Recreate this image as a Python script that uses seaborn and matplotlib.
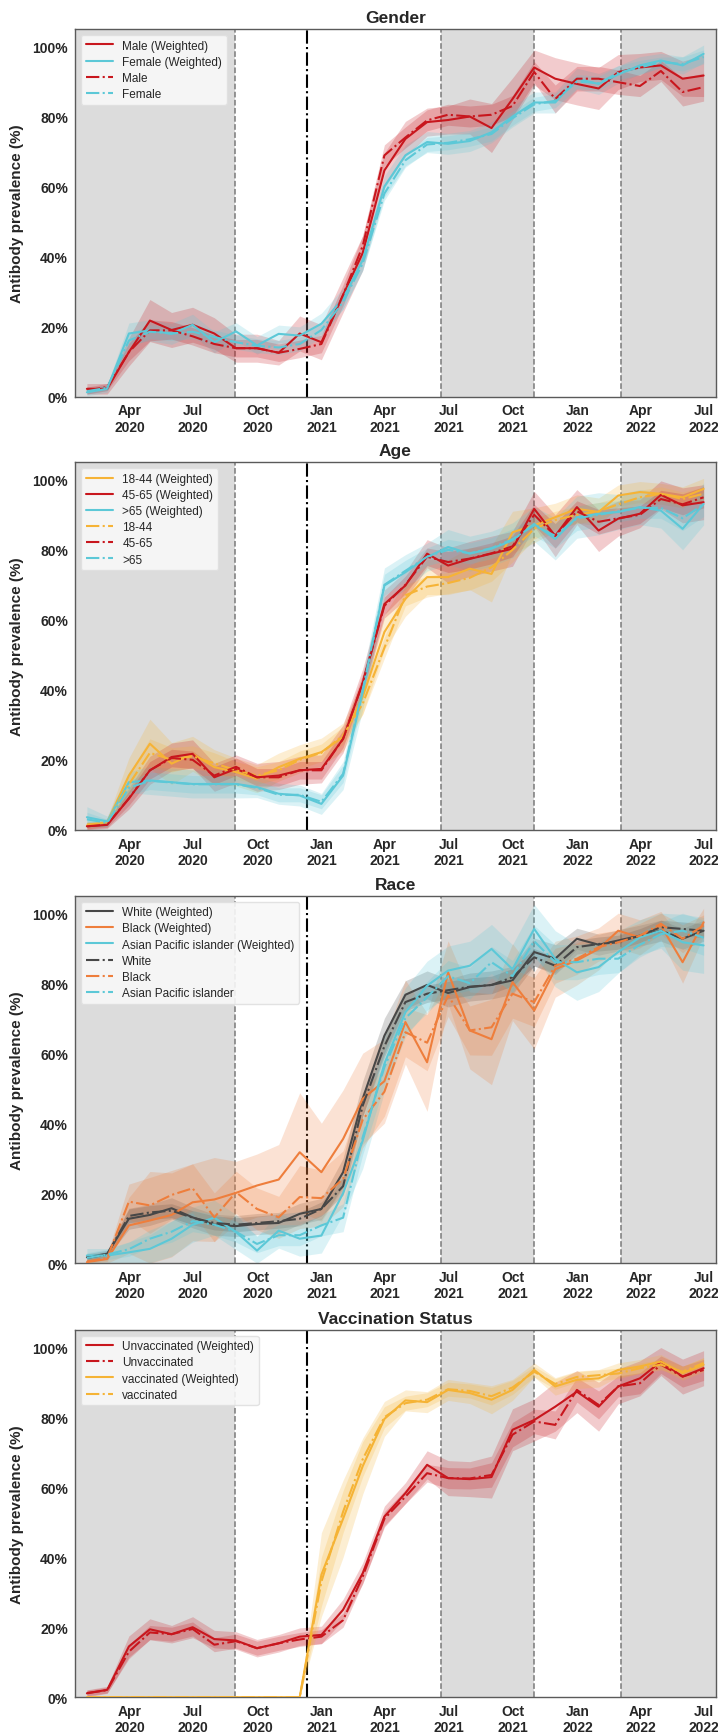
import numpy as np
import pandas as pd
import matplotlib
matplotlib.use("Agg")
import matplotlib.pyplot as plt
import matplotlib.dates as mdates
from matplotlib.ticker import FuncFormatter
import seaborn as sns

# ---------------- data (monthly, month-end, Jan 2020 - Jun 2022) ----------------
months = pd.date_range("2020-01-01", periods=30, freq="MS") + pd.offsets.MonthEnd(0)

# Gender
male_w = [2.2, 2.2, 12.7, 21.7, 19.0, 20.5, 18.0, 13.8, 13.8, 12.5, 18.0, 15.5, 29.0, 41.0, 64.6,
          73.6, 78.4, 79.0, 80.0, 76.7, 85.0, 94.0, 90.8, 89.3, 88.0, 92.7, 94.0, 94.6, 90.8, 91.7]
female_w = [1.2, 2.2, 18.0, 18.9, 17.9, 20.5, 15.5, 18.6, 14.6, 17.9, 17.4, 20.8, 28.0, 39.0, 60.0,
            68.9, 72.7, 72.2, 73.0, 75.5, 80.0, 84.0, 84.0, 90.8, 89.3, 92.0, 94.6, 96.0, 94.6, 97.9]
male_u = [1.7, 2.7, 12.7, 18.9, 18.9, 17.2, 15.0, 13.8, 13.8, 12.5, 13.6, 15.0, 29.0, 43.0, 68.9,
          74.0, 78.9, 80.5, 80.0, 80.5, 83.0, 92.7, 85.0, 90.8, 90.8, 89.8, 88.7, 93.0, 87.0, 88.4]
female_u = [1.5, 2.5, 16.0, 18.5, 18.0, 18.5, 17.0, 15.5, 14.5, 14.0, 15.0, 19.0, 27.0, 38.0, 58.0,
            67.5, 72.0, 72.5, 73.5, 75.0, 79.5, 83.5, 84.5, 90.0, 89.5, 92.5, 94.0, 95.5, 95.0, 97.0]
male_w_err = [1.5, 1.5, 4, 6, 5, 5, 4.5, 4, 4, 3.5, 5, 5, 5, 5, 5, 5, 4, 4, 5, 7, 6, 5, 6, 6, 6, 5, 4, 4, 5, 6]
female_w_err = [1, 1, 3, 3, 3, 3, 3, 2.5, 2.5, 2.5, 2.5, 3, 3, 3, 3, 3, 3, 3, 3, 3, 3, 3, 3, 3, 3, 2.5, 2.5, 2, 2.5, 2.5]
male_u_err = [1, 1, 2.5, 3, 2.5, 2.5, 2.5, 2.5, 2.5, 2.5, 2.5, 2.5, 3, 3, 3, 3, 3, 3, 3, 3, 3, 3, 4, 3.5, 3.5, 3.5, 3, 3, 4, 4]
female_u_err = [0.8, 0.8, 2, 2, 2, 2, 2, 2, 2, 2, 2, 2, 2, 2, 2, 2, 2, 2, 2, 2, 2, 2, 2, 2, 2, 2, 2, 1.5, 2, 2]

# Age
a1844_w = [1.2, 2.2, 15.5, 24.6, 18.9, 21.7, 17.9, 16.5, 14.6, 17.9, 20.3, 22.2, 26.5, 38.0, 56.5,
           66.0, 72.2, 72.2, 74.6, 73.1, 85.0, 87.0, 89.3, 91.7, 90.8, 95.5, 96.5, 96.0, 95.0, 97.4]
a4565_w = [1.0, 1.4, 8.9, 17.0, 20.8, 21.7, 15.0, 17.4, 15.0, 15.5, 17.0, 17.4, 26.0, 42.0, 64.5,
           69.8, 78.9, 75.5, 77.4, 78.9, 80.3, 91.7, 84.0, 92.2, 85.5, 88.9, 90.3, 95.7, 92.7, 93.6]
a65_w = [3.6, 2.4, 13.6, 14.1, 13.6, 13.1, 13.1, 13.1, 12.2, 10.3, 9.8, 7.4, 15.5, 39.3, 69.8,
         73.6, 77.9, 80.8, 78.9, 80.3, 82.7, 87.4, 83.1, 89.3, 90.3, 90.8, 92.2, 91.2, 86.0, 93.1]
a1844_u = [1.5, 2.0, 13.0, 22.0, 20.0, 21.0, 19.0, 17.0, 15.5, 17.0, 20.0, 22.0, 27.0, 36.0, 52.0,
           67.0, 69.5, 70.5, 72.0, 75.0, 80.0, 86.0, 88.5, 90.0, 91.0, 93.0, 95.0, 96.0, 94.5, 96.0]
a4565_u = [1.0, 1.5, 9.0, 17.0, 20.5, 20.0, 15.5, 18.0, 15.0, 15.0, 17.0, 17.0, 26.0, 42.0, 64.0,
           70.0, 78.0, 76.5, 77.5, 79.0, 81.0, 90.0, 84.0, 91.0, 88.0, 89.0, 90.0, 94.5, 93.0, 95.0]
a65_u = [3.0, 2.0, 12.0, 14.0, 13.5, 13.0, 13.0, 13.0, 12.0, 10.0, 10.0, 8.0, 16.0, 40.0, 70.0,
         74.0, 78.0, 80.0, 79.0, 80.5, 83.0, 87.0, 84.0, 89.0, 90.0, 91.0, 92.0, 92.0, 89.0, 93.0]
a1844_w_err = [1, 1, 5, 7, 6, 5, 5, 4, 4, 4, 4, 4, 4, 5, 5, 5, 5, 5, 6, 8, 6, 5, 4, 4, 4, 3, 3, 3, 3, 3]
a4565_w_err = [1, 1, 3, 4, 4, 4, 4, 4, 4, 4, 4, 4, 4, 4, 4, 4, 4, 5, 5, 5, 5, 5, 6, 5, 6, 5, 4, 4, 5, 5]
a65_w_err = [3, 1.5, 3, 4, 4, 4, 4, 4, 3, 3, 3, 3, 4, 5, 5, 5, 4, 5, 5, 5, 5, 5, 6, 6, 6, 5, 5, 5, 6, 6]
a1844_u_err = [0.8, 0.8, 3, 4, 3.5, 3, 3, 2.5, 2.5, 2.5, 2.5, 2.5, 2.5, 3, 3, 3, 3, 3, 3.5, 4, 3.5, 3, 2.5, 2.5, 2.5, 2, 2, 2, 2, 2]
a4565_u_err = [0.8, 0.8, 2, 2.5, 2.5, 2.5, 2.5, 2.5, 2.5, 2.5, 2.5, 2.5, 2.5, 2.5, 2.5, 2.5, 2.5, 3, 3, 3, 3, 3, 3.5, 3, 3.5, 3, 2.5, 2.5, 3, 3]
a65_u_err = [2, 1, 2, 2.5, 2.5, 2.5, 2.5, 2.5, 2, 2, 2, 2, 2.5, 3, 3, 3, 2.5, 3, 3, 3, 3, 3, 3.5, 3.5, 3.5, 3, 3, 3, 3.5, 3.5]

# Race
white_w = [1.7, 2.7, 12.7, 13.8, 15.7, 13.1, 11.0, 10.6, 11.2, 11.5, 14.1, 15.5, 26.0, 47.0, 65.0,
           76.7, 79.5, 77.2, 78.9, 79.5, 80.8, 88.9, 87.0, 92.7, 91.0, 92.2, 93.6, 95.0, 92.7, 95.0]
black_w = [0.3, 1.2, 10.8, 12.2, 13.8, 17.4, 18.2, 20.1, 22.2, 23.9, 31.7, 26.0, 35.5, 47.0, 52.0,
           68.9, 57.4, 83.1, 66.5, 64.0, 80.3, 72.2, 84.0, 86.5, 89.8, 95.0, 93.1, 96.5, 86.0, 97.4]
api_w = [2.2, 2.2, 3.1, 4.1, 7.0, 11.0, 13.0, 8.9, 3.6, 9.3, 7.0, 7.9, 20.0, 35.0, 57.0,
         71.7, 79.3, 83.6, 85.0, 89.8, 84.0, 95.5, 87.0, 83.1, 84.6, 88.9, 93.1, 95.0, 91.7, 90.8]
white_u = [1.5, 2.5, 13.5, 14.5, 15.0, 13.0, 11.5, 11.0, 11.5, 12.0, 12.7, 15.5, 22.0, 45.0, 62.0,
           74.6, 77.0, 78.0, 79.0, 79.5, 81.7, 87.4, 85.0, 90.3, 91.2, 91.7, 93.6, 96.0, 95.5, 95.0]
black_u = [0.5, 1.5, 17.6, 16.5, 19.5, 21.4, 13.1, 20.3, 15.5, 13.1, 18.9, 18.6, 24.1, 41.0, 49.0,
           66.0, 63.0, 76.5, 66.5, 67.4, 77.0, 74.6, 85.0, 87.0, 90.3, 91.7, 93.6, 97.0, 92.7, 96.5]
api_u = [1.5, 2.5, 4.0, 7.0, 9.0, 12.0, 11.0, 9.0, 5.5, 8.0, 8.0, 10.8, 13.0, 36.0, 56.0,
         70.0, 76.0, 82.0, 80.0, 86.0, 82.0, 92.0, 86.0, 86.0, 87.0, 87.0, 91.0, 94.0, 95.0, 93.0]
white_w_err = [1, 1, 3, 3, 3, 3, 3, 3, 3, 3, 3, 3, 4, 5, 5, 4, 4, 4, 4, 4, 4, 4, 4, 3, 3, 3, 3, 3, 3, 3]
black_w_err = [1, 1.5, 8, 14, 12, 11, 12, 9, 9, 10, 17, 14, 14, 13, 12, 12, 14, 9, 11, 13, 11, 11, 8, 7, 6, 5, 5, 4, 6, 4]
api_w_err = [2, 2, 3, 4, 5, 5, 5, 5, 4, 5, 5, 5, 6, 8, 8, 7, 7, 7, 7, 7, 7, 7, 8, 8, 7, 6, 5, 5, 8, 8]
white_u_err = [0.8, 0.8, 2, 2, 2, 2, 2, 2, 2, 2, 2, 2, 2.5, 3, 3, 2.5, 2.5, 2.5, 2.5, 2.5, 2.5, 2.5, 2.5, 2, 2, 2, 2, 2, 2, 2]
black_u_err = [0.8, 1, 5, 8, 7, 7, 7, 6, 6, 6, 9, 8, 8, 8, 7, 7, 8, 6, 7, 8, 7, 7, 5, 4.5, 4, 3.5, 3.5, 3, 4, 3]
api_u_err = [1.5, 1.5, 2, 2.5, 3, 3, 3, 3, 2.5, 3, 3, 3, 4, 5, 5, 4.5, 4.5, 4.5, 4.5, 4.5, 4.5, 4.5, 5, 5, 4.5, 4, 3.5, 3.5, 5, 5]

# Vaccination status
unvax_w = [1.1, 2.1, 14.5, 19.4, 18.0, 20.0, 16.6, 16.2, 14.0, 15.4, 17.3, 17.8, 25.0, 35.4, 51.6,
           58.3, 66.4, 62.6, 62.3, 62.9, 76.4, 79.2, 83.0, 87.3, 83.0, 88.8, 91.1, 95.9, 91.6, 94.0]
unvax_u = [1.2, 2.0, 13.0, 18.5, 18.0, 19.5, 15.0, 16.0, 14.0, 15.4, 16.5, 17.3, 22.0, 34.5, 51.0,
           57.3, 64.0, 62.6, 62.5, 63.5, 75.0, 78.8, 77.8, 87.8, 83.5, 88.8, 89.7, 95.0, 91.6, 93.5]
vax_w = [0, 0, 0, 0, 0, 0, 0, 0, 0, 0, 0, 35.0, 51.0, 66.0, 79.5,
         84.8, 84.3, 87.8, 86.9, 85.0, 87.8, 93.5, 88.8, 90.7, 91.1, 93.5, 94.5, 95.9, 92.6, 95.0]
vax_u = [0, 0, 0, 0, 0, 0, 0, 0, 0, 0, 0, 33.0, 53.0, 68.0, 80.0,
         84.0, 85.0, 88.0, 87.5, 86.0, 88.5, 93.0, 89.5, 91.5, 92.0, 92.5, 94.0, 95.0, 93.0, 95.5]
unvax_w_err = [1, 1, 3, 3, 2.5, 3, 2.5, 2.5, 2.5, 2.5, 2.5, 2.5, 3, 3, 3, 3, 4, 5, 5, 6, 6, 6, 7, 6, 7, 5, 5, 4, 5, 5]
unvax_u_err = [0.8, 0.8, 2, 2, 2, 2, 2, 2, 2, 2, 2, 2, 2, 2, 2, 2, 2.5, 3, 3, 3.5, 3.5, 3.5, 4, 3.5, 4, 3, 3, 2.5, 3, 3]
vax_w_err = [0, 0, 0, 0, 0, 0, 0, 0, 0, 0, 0, 12, 11, 8, 5, 3, 3, 3, 3, 4, 3, 2, 2.5, 2.5, 2.5, 2, 2, 2, 2, 2]
vax_u_err = [0, 0, 0, 0, 0, 0, 0, 0, 0, 0, 0, 7, 6, 5, 3, 2, 2, 2, 2, 2.5, 2, 1.5, 1.5, 1.5, 1.5, 1.5, 1.5, 1.5, 1.5, 1.5]

# period markers
period_breaks = ["2020-08-30", "2021-06-20", "2021-10-31", "2022-03-04"]
vaccine_start = "2020-12-10"
x_start, x_end = "2020-01-14", "2022-07-17"

# ---------------- style ----------------
RED = "#C8161D"
CYAN = "#5CC8D7"
ORANGE_AGE = "#F6B336"
GRAY = "#474747"
ORANGE_RACE = "#EE7E3C"
YELLOW = "#F5B335"

sns.set_theme(style="white")
plt.rcParams["font.family"] = ["Liberation Sans", "DejaVu Sans"]
plt.rcParams["font.weight"] = "bold"

panels = [
    ("Gender", [
        ("Male (Weighted)", male_w, male_w_err, RED, "-"),
        ("Female (Weighted)", female_w, female_w_err, CYAN, "-"),
        ("Male", male_u, male_u_err, RED, "-."),
        ("Female", female_u, female_u_err, CYAN, "-."),
    ]),
    ("Age", [
        ("18-44 (Weighted)", a1844_w, a1844_w_err, ORANGE_AGE, "-"),
        ("45-65 (Weighted)", a4565_w, a4565_w_err, RED, "-"),
        (">65 (Weighted)", a65_w, a65_w_err, CYAN, "-"),
        ("18-44", a1844_u, a1844_u_err, ORANGE_AGE, "-."),
        ("45-65", a4565_u, a4565_u_err, RED, "-."),
        (">65", a65_u, a65_u_err, CYAN, "-."),
    ]),
    ("Race", [
        ("White (Weighted)", white_w, white_w_err, GRAY, "-"),
        ("Black (Weighted)", black_w, black_w_err, ORANGE_RACE, "-"),
        ("Asian Pacific islander (Weighted)", api_w, api_w_err, CYAN, "-"),
        ("White", white_u, white_u_err, GRAY, "-."),
        ("Black", black_u, black_u_err, ORANGE_RACE, "-."),
        ("Asian Pacific islander", api_u, api_u_err, CYAN, "-."),
    ]),
    ("Vaccination Status", [
        ("Unvaccinated (Weighted)", unvax_w, unvax_w_err, RED, "-"),
        ("Unvaccinated", unvax_u, unvax_u_err, RED, "-."),
        ("vaccinated (Weighted)", vax_w, vax_w_err, YELLOW, "-"),
        ("vaccinated", vax_u, vax_u_err, YELLOW, "-."),
    ]),
]

W, H = 718, 1733
fig = plt.figure(figsize=(W / 100, H / 100), dpi=100)
ax_tops = [30, 463.3, 896.7, 1330.7]
ax_h = 367.5
left, right = 75, 715.5

xs0, xs1 = pd.Timestamp(x_start), pd.Timestamp(x_end)
brk = [pd.Timestamp(b) for b in period_breaks]

for (title, series), top in zip(panels, ax_tops):
    ax = fig.add_axes([left / W, 1 - (top + ax_h) / H, (right - left) / W, ax_h / H])
    ax.axvspan(xs0, brk[0], color="#dcdcdc", lw=0, zorder=0)
    ax.axvspan(brk[1], brk[2], color="#dcdcdc", lw=0, zorder=0)
    ax.axvspan(brk[3], xs1, color="#dcdcdc", lw=0, zorder=0)
    for b in brk:
        ax.axvline(b, color="#7a7a7a", ls="--", lw=1.1, zorder=1)
    ax.axvline(pd.Timestamp(vaccine_start), color="black", ls="-.", lw=1.5, zorder=1)

    for label, vals, err, color, ls in series:
        v = np.asarray(vals, dtype=float)
        e = np.asarray(err, dtype=float)
        df = pd.DataFrame({"month": months, "value": v})
        sns.lineplot(data=df, x="month", y="value", ax=ax, color=color,
                     linestyle=ls, lw=1.5, label=label, zorder=3)
        ax.fill_between(months, np.clip(v - e, 0, None), v + e, color=color,
                        alpha=0.22, lw=0, zorder=2)

    ax.set_xlim(xs0, xs1)
    ax.set_ylim(0, 105)
    ax.set_yticks([0, 20, 40, 60, 80, 100])
    ax.yaxis.set_major_formatter(FuncFormatter(lambda val, _: f"{val:.0f}%"))
    ax.xaxis.set_major_locator(mdates.MonthLocator(bymonth=[1, 4, 7, 10]))
    ax.xaxis.set_major_formatter(mdates.DateFormatter("%b\n%Y"))
    ax.tick_params(axis="both", labelsize=10, pad=5, length=0)
    ax.set_xlabel("")
    ax.set_ylabel("Antibody prevalence (%)", fontsize=11, fontweight="bold", labelpad=6)
    ax.set_title(title, fontsize=12.5, fontweight="bold", pad=5)
    for s in ax.spines.values():
        s.set_color("#5a5a5a")
        s.set_linewidth(1.0)
    leg = ax.legend(loc="upper left", prop={"weight": "normal", "size": 8.5},
                    frameon=True, facecolor="#f8f8f8", edgecolor="#e0e0e0",
                    framealpha=0.9, handlelength=2.3, labelspacing=0.35)
    leg.set_zorder(5)

fig.savefig("out.png", dpi=100)
